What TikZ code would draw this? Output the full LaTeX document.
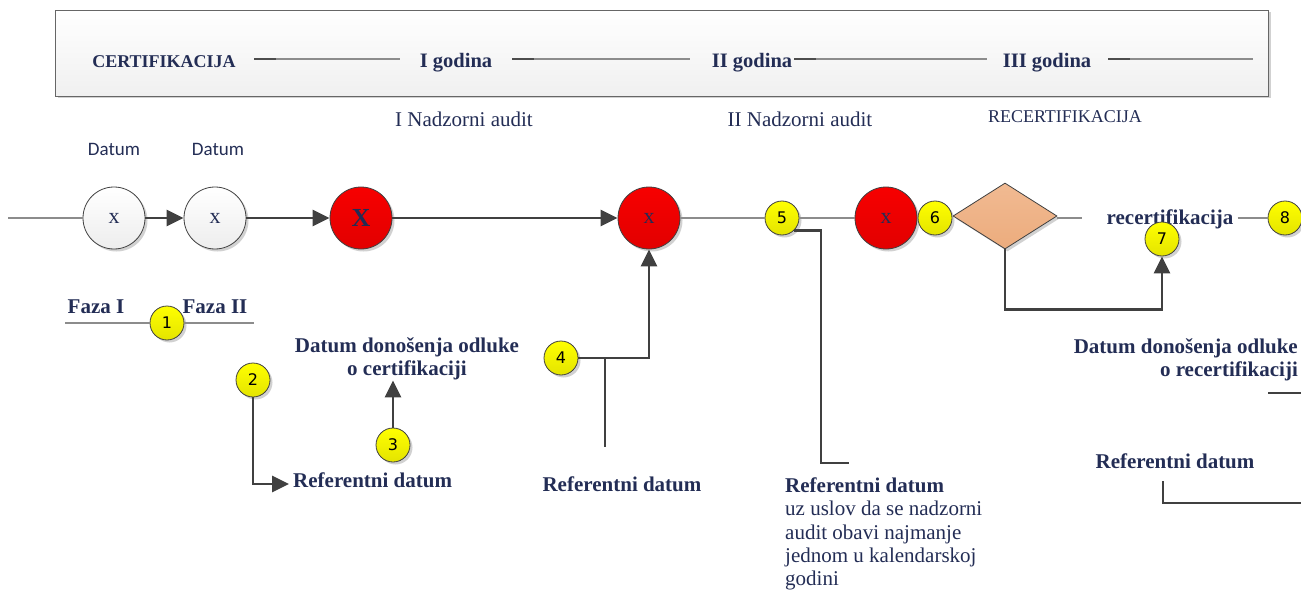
\documentclass[tikz,border=0pt]{standalone}
\usepackage{fontspec}
\setmainfont{Liberation Serif}
\newfontfamily\carl{Carlito}
\newfontfamily\numf{DejaVu Sans}
\usetikzlibrary{shapes.geometric,arrows.meta,shadows,calc}
\definecolor{navy}{RGB}{35,45,85}
\definecolor{dk}{RGB}{64,64,64}
\definecolor{ln}{RGB}{140,140,140}
\definecolor{redtop}{RGB}{247,0,0}
\definecolor{redbot}{RGB}{226,0,0}
\definecolor{yeltop}{RGB}{255,255,0}
\definecolor{yelbot}{RGB}{228,228,0}
\definecolor{peachtop}{RGB}{241,186,146}
\definecolor{peachbot}{RGB}{236,172,125}
\begin{document}
\begin{tikzpicture}[x=1pt,y=-1pt,
  shd/.style={drop shadow={shadow xshift=2.5pt,shadow yshift=-2.5pt,fill=black,opacity=0.18}},
  wc/.style={circle,shd,draw=dk,line width=0.8pt,minimum size=62pt,inner sep=0pt,
     top color=white,bottom color=black!7,text=navy,font=\fontsize{22}{24}\selectfont},
  rc/.style={circle,shd,draw=dk,line width=0.8pt,minimum size=62pt,inner sep=0pt,
     top color=redtop,bottom color=redbot,text=navy,font=\fontsize{22}{24}\selectfont},
  yc/.style={circle,shd,draw=dk,line width=0.8pt,minimum size=34pt,inner sep=0pt,
     top color=yeltop,bottom color=yelbot,text=black,font=\numf\fontsize{16}{18}\selectfont},
  conn/.style={draw=dk,line width=2.8pt},
  arr/.style={conn,-{Triangle[length=17pt,width=16pt]}},
  thinln/.style={draw=ln,line width=1.6pt},
  hdrtxt/.style={text=navy,font=\bfseries\fontsize{20.5}{24}\selectfont,anchor=base,inner sep=0pt},
  bt/.style={text=navy,font=\bfseries\fontsize{21}{23.3}\selectfont,inner sep=0pt},
  rt/.style={text=navy,font=\fontsize{21}{23.3}\selectfont,inner sep=0pt},
  dt/.style={text=navy,font=\carl\fontsize{19}{22}\selectfont,anchor=base,inner sep=0pt}
]
\useasboundingbox (0,0) rectangle (1301,591);

% header box
\node[shd,draw=black!60,line width=0.8pt,top color=white,bottom color=black!6,
  minimum width=1213pt,minimum height=86pt,inner sep=0pt] (hdr) at (661.5,53) {};
\node[hdrtxt,font=\bfseries\fontsize{18}{20}\selectfont] (h0) at (164,68) {CERTIFIKACIJA};
\node[hdrtxt] (h1) at (456,68) {I godina};
\node[hdrtxt] (h2) at (752,68) {II godina};
\node[hdrtxt] (h3) at (1047,68) {III godina};
\coordinate (a1) at (254,59); \coordinate (b1) at (400,59);
\coordinate (a2) at (512,59); \coordinate (b2) at (690,59);
\coordinate (a3) at (794,59); \coordinate (b3) at (987,59);
\coordinate (a4) at (1108,59); \coordinate (b4) at (1253,59);
\foreach \i in {1,2,3,4}{
  \draw[draw=black!45,line width=1.2pt] (a\i) -- (b\i);
  \draw[draw=black!70,line width=1.6pt] (a\i) -- ($(a\i)+(22,0)$);
}

% upper labels
\node[rt,anchor=base] (na1) at (464,127) {I Nadzorni audit};
\node[rt,anchor=base] (na2) at (800,127) {II Nadzorni audit};
\node[rt,anchor=base,font=\fontsize{18}{20}\selectfont] (rc0) at (1065,123) {RECERTIFIKACIJA};
\node[dt] (dt1) at (114,155) {Datum};
\node[dt] (dt2) at (218,155) {Datum};

% main line nodes
\node[wc] (c1) at (114,218) {x};
\node[wc] (c2) at (215,218) {x};
\node[rc,font=\bfseries\fontsize{26}{28}\selectfont] (c3) at (361,218) {X};
\node[rc] (c4) at (649,218) {x};
\node[yc] (n5) at (782,218) {5};
\node[rc] (c6) at (886,218) {x};
\node[yc] (n6) at (935,218) {6};
\node[diamond,shd,draw=dk,line width=0.8pt,inner sep=0pt,minimum width=104pt,minimum height=66pt,
  top color=peachtop,bottom color=peachbot] (d) at (1005,216) {};
\node[bt,anchor=base] (rec) at (1170,224) {recertifikacija};
\node[yc] (n8) at (1285,218) {8};
\node[yc] (n7) at (1162,239) {7};

\coordinate (l0) at (8,218);
\draw[thinln] (l0) -- (c1.west);
\draw[arr] (c1.east) -- (c2.west);
\draw[arr] (c2.east) -- (c3.west);
\draw[arr] (c3.east) -- (c4.west);
\draw[thinln] (c4.east) -- (n5.west);
\draw[thinln] (n5.east) -- (c6.west);
\coordinate (dr) at (1082,218);
\draw[thinln] (d.east |- dr) -- (dr);
\draw[thinln] ([xshift=4pt]rec.base east |- n8) -- (n8.west);
\draw[arr] (d.south) -- ++(0,60) -| (n7.south);

% Faza
\node[bt,anchor=base] (f1) at (96,313) {Faza I};
\node[bt,anchor=base] (f2) at (215,313) {Faza II};
\coordinate (fl) at (65,323); \coordinate (fr) at (254,323);
\node[yc] (n1) at (167,323) {1};
\draw[thinln] (fl) -- (n1.west);
\draw[thinln] (n1.east) -- (fr);

% left block
\node[yc] (n2) at (253,380) {2};
\node[bt,anchor=base west] (ref1) at (293,487) {Referentni datum};
\draw[arr] (n2.south) |- ([xshift=-4pt,yshift=3pt]ref1.base west);
\node[bt,anchor=north,align=center] (dd1) at (407,337.5) {Datum donošenja odluke\\o certifikaciji};
\node[yc] (n3) at (393,445) {3};
\draw[arr] (n3.north) -- (n3 |- dd1.south);

% block 4
\node[yc] (n4) at (561,358) {4};
\draw[arr] (n4.east) -| (c4.south);
\coordinate (j4) at (605,358); \coordinate (e4) at (605,447);
\draw[conn] (j4) -- (e4);
\node[bt,anchor=base] (ref2) at (622,491) {Referentni datum};

% block 5
\coordinate (k5) at (821,463); \coordinate (k5b) at (849,463);
\draw[conn] (n5.-45) -- (n5.-45 -| k5) -- (k5) -- (k5b);
\node[rt,anchor=north west,align=left] (ref3) at (785,477.5)
  {\textbf{Referentni datum}\\uz uslov da se nadzorni\\audit obavi najmanje\\jednom u kalendarskoj\\godini};

% right block
\node[bt,anchor=north east,align=right] (dd2) at (1298,338.5) {Datum donošenja odluke\\o recertifikaciji};
\coordinate (r1) at (1268,393); \coordinate (r2) at (1301,393);
\draw[conn] (r1) -- (r2);
\node[bt,anchor=base] (ref4) at (1175,468) {Referentni datum};
\coordinate (s1) at (1163,481); \coordinate (s2) at (1163,503); \coordinate (s3) at (1301,503);
\draw[conn] (s1) -- (s2) -- (s3);
\end{tikzpicture}
\end{document}
